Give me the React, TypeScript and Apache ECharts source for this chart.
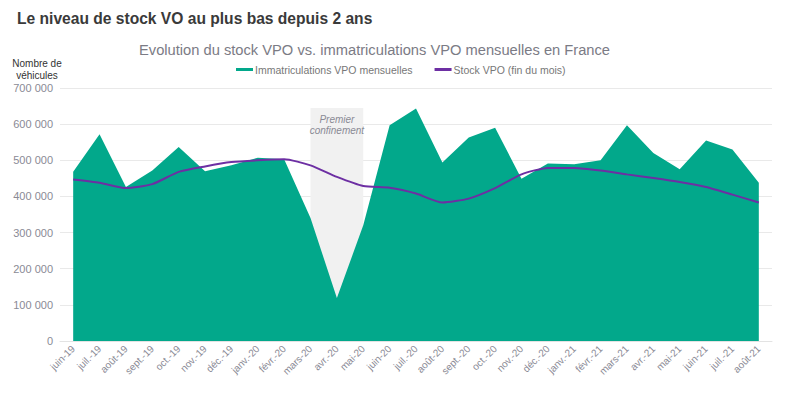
import React, { useEffect, useRef } from "react";
import * as echarts from "echarts";

const months = [
  "juin-19", "juil.-19", "août-19", "sept.-19", "oct.-19", "nov.-19", "déc.-19",
  "janv.-20", "févr.-20", "mars-20", "avr.-20", "mai-20", "juin-20", "juil.-20",
  "août-20", "sept.-20", "oct.-20", "nov.-20", "déc.-20", "janv.-21", "févr.-21",
  "mars-21", "avr.-21", "mai-21", "juin-21", "juil.-21", "août-21",
];

const immatriculations = [
  468000, 572000, 426000, 472000, 537000, 470000, 486000, 507000, 503000,
  340000, 119000, 320000, 597000, 643000, 494000, 563000, 590000, 449000,
  491000, 489000, 500000, 597000, 520000, 475000, 555000, 530000, 438000,
];

const stock = [
  447000, 438000, 423000, 434000, 468000, 483000, 495000, 500000, 503000,
  486000, 454000, 429000, 424000, 408000, 383000, 394000, 423000, 461000,
  479000, 479000, 472000, 461000, 451000, 440000, 426000, 405000, 383000,
];

const confinementStart = "mars-20";
const confinementEnd = "mai-20";
const confinementTop = 645000;

const fmt = (v: number) => String(v).replace(/\B(?=(\d{3})+(?!\d))/g, " ");

export default function App() {
  const ref = useRef<HTMLDivElement>(null);
  useEffect(() => {
    if (!ref.current) return;
    const chart = echarts.init(ref.current, null, { renderer: "svg" });
    const font = "Helvetica, Arial, 'Liberation Sans', sans-serif";
    chart.setOption({
      animation: false,
      textStyle: { fontFamily: font },
      title: [
        {
          text: "Le niveau de stock VO au plus bas depuis 2 ans",
          left: 12,
          top: 5,
          textStyle: { fontSize: 15.6, fontWeight: "bold", color: "#3a3a3a", fontFamily: font },
        },
        {
          text: "Evolution du stock VPO vs. immatriculations VPO mensuelles en France",
          left: 134,
          top: 37,
          textStyle: { fontSize: 14.7, fontWeight: "normal", color: "#7b7b85", fontFamily: font },
        },
      ],
      legend: {
        top: 59,
        left: 231,
        itemGap: 22,
        itemWidth: 17,
        itemHeight: 3,
        textStyle: { fontSize: 10.5, color: "#777", fontFamily: font, padding: [0, 0, 0, -3] },
        data: [
          { name: "Immatriculations VPO mensuelles", icon: "rect", itemStyle: { color: "#02a88b" } },
          { name: "Stock VPO (fin du mois)", icon: "rect", itemStyle: { color: "#6d2fa3" } },
        ],
      },
      graphic: [
        {
          type: "text",
          x: 37,
          y: 57,
          style: {
            text: "Nombre de\nvéhicules",
            textAlign: "center",
            fontSize: 10,
            lineHeight: 12,
            fill: "#333",
            fontFamily: font,
          },
        },
      ],
      grid: { left: 60, right: 13, top: 88, bottom: 54 },
      xAxis: {
        type: "category",
        data: months,
        boundaryGap: true,
        axisLine: { lineStyle: { color: "#e3e3e3" } },
        axisTick: { show: false },
        axisLabel: { rotate: 45, fontSize: 10, color: "#8a8a95", interval: 0, margin: 6 },
      },
      yAxis: {
        type: "value",
        min: 0,
        max: 700000,
        interval: 100000,
        axisLabel: { fontSize: 11, color: "#8a8a95", margin: 7, formatter: (v: number) => fmt(v) },
        splitLine: { lineStyle: { color: "#e9e9e9" } },
        axisLine: { show: false },
        axisTick: { show: false },
      },
      series: [
        {
          name: "confinement",
          type: "line",
          data: [],
          z: 1,
          markArea: {
            silent: true,
            itemStyle: { color: "#f1f1f1" },
            label: {
              show: true,
              position: "insideTop",
              distance: 6,
              formatter: "Premier\nconfinement",
              fontSize: 10,
              fontStyle: "italic",
              color: "#8a8a95",
              lineHeight: 11,
            },
            data: [[
              { xAxis: confinementStart, yAxis: 0 },
              { xAxis: confinementEnd, yAxis: confinementTop },
            ]],
          },
        },
        {
          name: "Immatriculations VPO mensuelles",
          type: "line",
          data: immatriculations,
          z: 3,
          symbol: "none",
          lineStyle: { width: 0, color: "#02a88b" },
          itemStyle: { color: "#02a88b" },
          areaStyle: { color: "#02a88b", opacity: 1 },
        },
        {
          name: "Stock VPO (fin du mois)",
          type: "line",
          data: stock,
          z: 4,
          symbol: "none",
          smooth: 0.2,
          lineStyle: { width: 2, color: "#6d2fa3" },
          itemStyle: { color: "#6d2fa3" },
        },
      ],
    });
    return () => chart.dispose();
  }, []);
  return <div ref={ref} style={{ width: 785, height: 395, margin: -8 }} />;
}
